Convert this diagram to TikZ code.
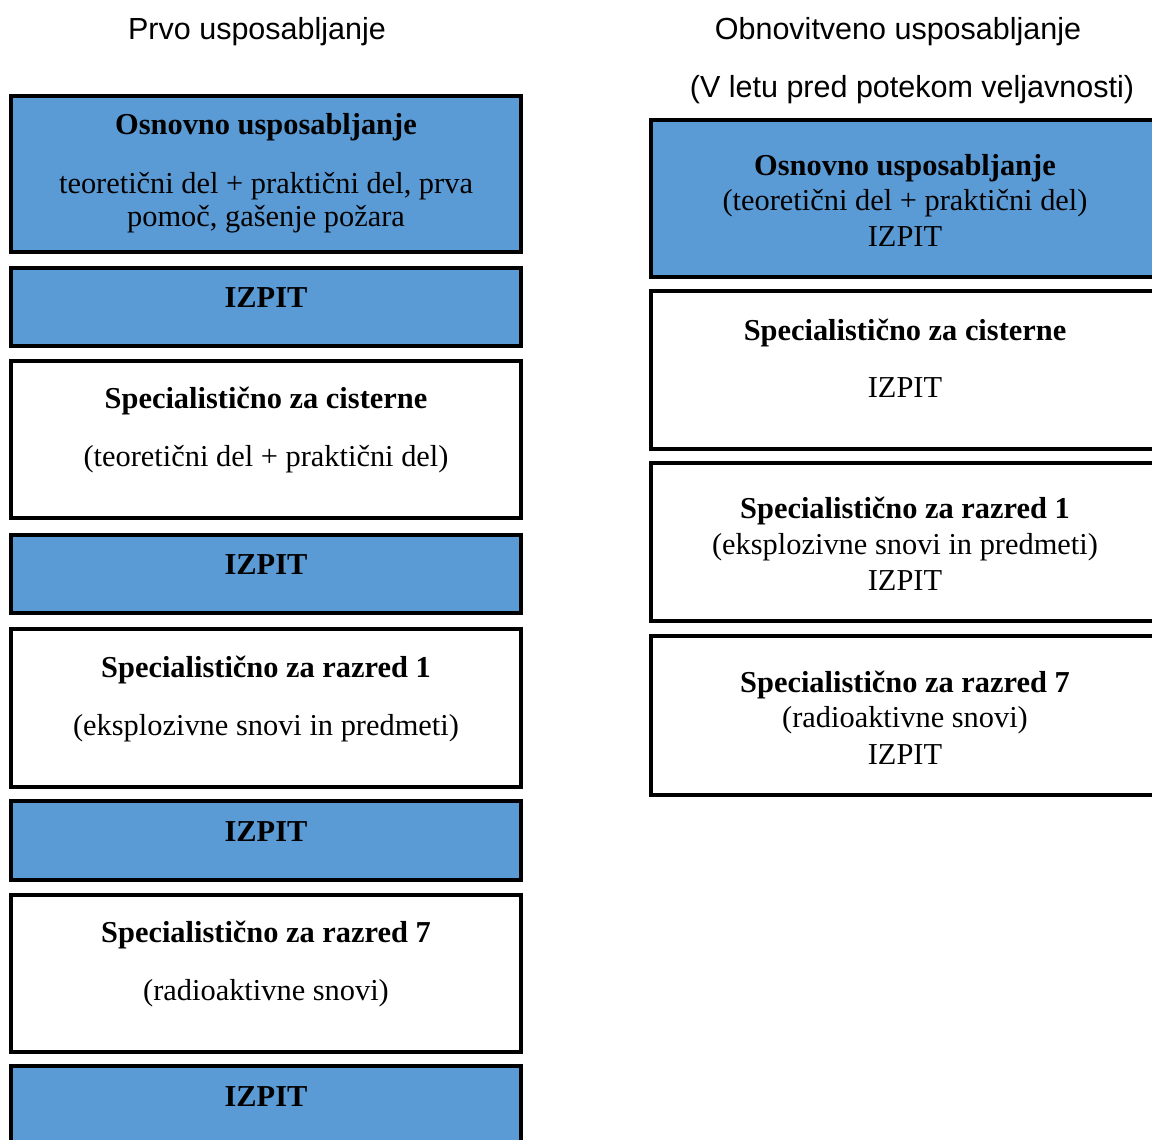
\documentclass[tikz,border=0pt]{standalone}
\usepackage{fontspec}
\setmainfont{Liberation Serif}
\newfontfamily\headfont{Liberation Sans}
\definecolor{boxblue}{HTML}{5B9BD5}
\begin{document}
\begin{tikzpicture}[x=1pt,y=-1pt,
  frame/.style={draw=black, line width=3.2pt, rectangle, inner sep=0pt, outer sep=0pt},
  bluebox/.style={frame, fill=boxblue},
  whitebox/.style={frame, fill=white},
  leftcol/.style={minimum width=510pt},
  rightcol/.style={minimum width=508pt},
  txt/.style={anchor=base, inner sep=0pt, font=\fontsize{30.4}{36}\selectfont},
  ttl/.style={anchor=base, inner sep=0pt, font=\fontsize{30.4}{36}\selectfont\bfseries},
  head/.style={anchor=base, inner sep=0pt, font=\headfont\fontsize{30.5}{36}\selectfont}]
\useasboundingbox (0,0) rectangle (1152,1140);
\fill[white] (0,0) rectangle (1152,1140);

% column headings
\node[head] (hleft) at (257,40) {Prvo usposabljanje};
\node[head] (hright) at (898,40) {Obnovitveno usposabljanje};
\node[head] (hright2) at (912,98) {(V letu pred potekom veljavnosti)};

% first training: boxes
\node[bluebox, leftcol, minimum height=156pt] (l1) at (266,174) {};
\node[bluebox, leftcol, minimum height=78pt] (l2) at (266,307) {};
\node[whitebox, leftcol, minimum height=157pt] (l3) at (266,439.5) {};
\node[bluebox, leftcol, minimum height=78pt] (l4) at (266,574) {};
\node[whitebox, leftcol, minimum height=158pt] (l5) at (266,708) {};
\node[bluebox, leftcol, minimum height=79pt] (l6) at (266,840.5) {};
\node[whitebox, leftcol, minimum height=157pt] (l7) at (266,973.5) {};
\node[bluebox, leftcol, minimum height=79pt] (l8) at (266,1105.5) {};

% first training: texts
\node[ttl] (l1a) at (266,135) {Osnovno usposabljanje};
\node[txt] (l1b) at (266,193) {teoretični del + praktični del, prva};
\node[txt] (l1c) at (266,226) {pomoč, gašenje požara};
\node[ttl] (l2a) at (266,307) {IZPIT};
\node[ttl] (l3a) at (266,408) {Specialistično za cisterne};
\node[txt] (l3b) at (266,466) {(teoretični del + praktični del)};
\node[ttl] (l4a) at (266,574) {IZPIT};
\node[ttl] (l5a) at (266,677) {Specialistično za razred 1};
\node[txt] (l5b) at (266,735) {(eksplozivne snovi in predmeti)};
\node[ttl] (l6a) at (266,841) {IZPIT};
\node[ttl] (l7a) at (266,942) {Specialistično za razred 7};
\node[txt] (l7b) at (266,1000) {(radioaktivne snovi)};
\node[ttl] (l8a) at (266,1106) {IZPIT};

% refresher training: boxes
\node[bluebox, rightcol, minimum height=157pt] (r1) at (905,198.5) {};
\node[whitebox, rightcol, minimum height=158pt] (r2) at (905,370) {};
\node[whitebox, rightcol, minimum height=158pt] (r3) at (905,542) {};
\node[whitebox, rightcol, minimum height=159pt] (r4) at (905,715.5) {};

% refresher training: texts
\node[ttl] (r1a) at (905,175) {Osnovno usposabljanje};
\node[txt] (r1b) at (905,210) {(teoretični del + praktični del)};
\node[txt] (r1c) at (905,246) {IZPIT};
\node[ttl] (r2a) at (905,340) {Specialistično za cisterne};
\node[txt] (r2b) at (905,397) {IZPIT};
\node[ttl] (r3a) at (905,518) {Specialistično za razred 1};
\node[txt] (r3b) at (905,554) {(eksplozivne snovi in predmeti)};
\node[txt] (r3c) at (905,590) {IZPIT};
\node[ttl] (r4a) at (905,692) {Specialistično za razred 7};
\node[txt] (r4b) at (905,727) {(radioaktivne snovi)};
\node[txt] (r4c) at (905,764) {IZPIT};
\end{tikzpicture}
\end{document}
